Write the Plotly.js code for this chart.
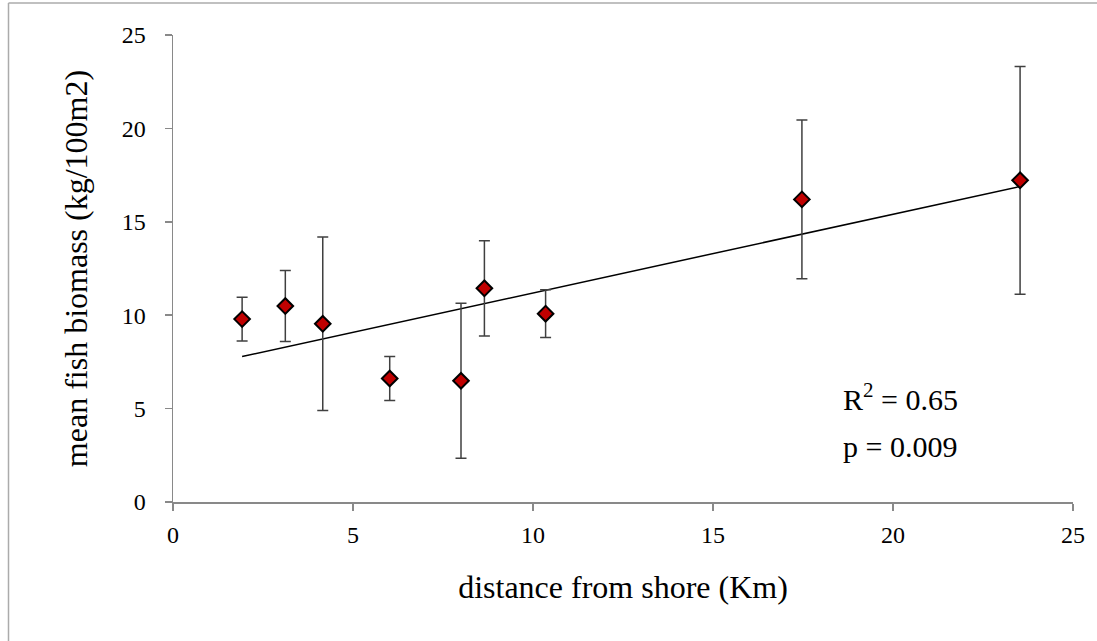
<!DOCTYPE html>
<html>
<head>
<meta charset="utf-8">
<script src="https://cdn.plot.ly/plotly-3.0.1.min.js"></script>
<style>html,body{margin:0;padding:0;background:#fff;}#chart{width:1097px;height:641px;}</style>
</head>
<body>
<div id="chart"></div>
<script>
// Data
var distanceKm = [1.92, 3.12, 4.16, 6.02, 8.0, 8.65, 10.35, 17.47, 23.53];
var meanBiomass = [9.79, 10.49, 9.54, 6.61, 6.49, 11.44, 10.08, 16.2, 17.22];
var errBiomass = [1.17, 1.9, 4.64, 1.18, 4.15, 2.55, 1.28, 4.25, 6.1];
var xTicks = [0, 5, 10, 15, 20, 25];
var yTicks = [0, 5, 10, 15, 20, 25];
var statsLabels = ["R<sup>2</sup> = 0.65", "p = 0.009"];

// Least-squares trend line computed from the data
function fit(xs, ys) {
  var n = xs.length, mx = 0, my = 0;
  for (var i = 0; i < n; i++) { mx += xs[i]; my += ys[i]; }
  mx /= n; my /= n;
  var sxy = 0, sxx = 0;
  for (var j = 0; j < n; j++) { sxy += (xs[j]-mx)*(ys[j]-my); sxx += (xs[j]-mx)*(xs[j]-mx); }
  var b = sxy / sxx; return {a: my - b*mx, b: b};
}
var f = fit(distanceKm, meanBiomass);
var xMin = Math.min.apply(null, distanceKm), xMax = Math.max.apply(null, distanceKm);
var trendX = [xMin, xMax];
var trendY = [f.a + f.b*xMin, f.a + f.b*xMax];

var serif = "Liberation Serif, Times New Roman, serif";
var axisCol = "#898989";

var traces = [
  {x: trendX, y: trendY, mode: "lines", type: "scatter",
   line: {color: "#000", width: 1.5}, hoverinfo: "skip", showlegend: false},
  {x: distanceKm, y: meanBiomass, mode: "markers", type: "scatter",
   error_y: {type: "data", array: errBiomass, visible: true, color: "#404040", thickness: 1.5, width: 5.5},
   marker: {symbol: "diamond", size: 12, color: "#C00000", line: {color: "#000", width: 2}},
   showlegend: false}
];

function px2paperX(p) { return (p - 173) / 900; }
function px2paperY(p) { return (502 - p) / 467; }

var layout = {
  width: 1097, height: 641,
  margin: {l: 173, r: 24, t: 35, b: 139},
  paper_bgcolor: "#fff", plot_bgcolor: "#fff",
  showlegend: false,
  font: {family: serif, color: "#000"},
  xaxis: {
    range: [0, 25], tickvals: xTicks, ticktext: xTicks.map(String),
    showgrid: false, zeroline: false, showline: true, linecolor: axisCol, linewidth: 1.5,
    ticks: "outside", ticklen: 7, tickcolor: axisCol, tickwidth: 1.5,
    tickfont: {family: serif, size: 24, color: "#000"}, ticklabelstandoff: 4,
    title: {text: "distance from shore (Km)", font: {family: serif, size: 32, color: "#000"}, standoff: 28}
  },
  yaxis: {
    range: [0, 25], tickvals: yTicks, ticktext: yTicks.map(String),
    showgrid: false, zeroline: false, showline: true, linecolor: axisCol, linewidth: 1.5,
    ticks: "outside", ticklen: 7, tickcolor: axisCol, tickwidth: 1.5,
    tickfont: {family: serif, size: 24, color: "#000"}, ticklabelstandoff: 14,
    title: {text: "mean fish biomass (kg/100m2)", font: {family: serif, size: 32, color: "#000"}, standoff: 24}
  },
  annotations: [
    {xref: "x", yref: "y", x: 18.55, y: 5.6, xanchor: "left", yanchor: "middle",
     text: statsLabels[0], showarrow: false, font: {family: serif, size: 30, color: "#000"}},
    {xref: "x", yref: "y", x: 18.55, y: 2.95, xanchor: "left", yanchor: "middle",
     text: statsLabels[1], showarrow: false, font: {family: serif, size: 30, color: "#000"}}
  ],
  shapes: [
    {type: "line", xref: "paper", yref: "paper", x0: px2paperX(8.5), x1: px2paperX(1100), y0: px2paperY(3), y1: px2paperY(3),
     line: {color: "#ABABAB", width: 1.5}},
    {type: "line", xref: "paper", yref: "paper", x0: px2paperX(8.5), x1: px2paperX(8.5), y0: px2paperY(3), y1: px2paperY(645),
     line: {color: "#ABABAB", width: 1.5}}
  ]
};

Plotly.newPlot("chart", traces, layout, {displayModeBar: false, staticPlot: true});
</script>
</body>
</html>
